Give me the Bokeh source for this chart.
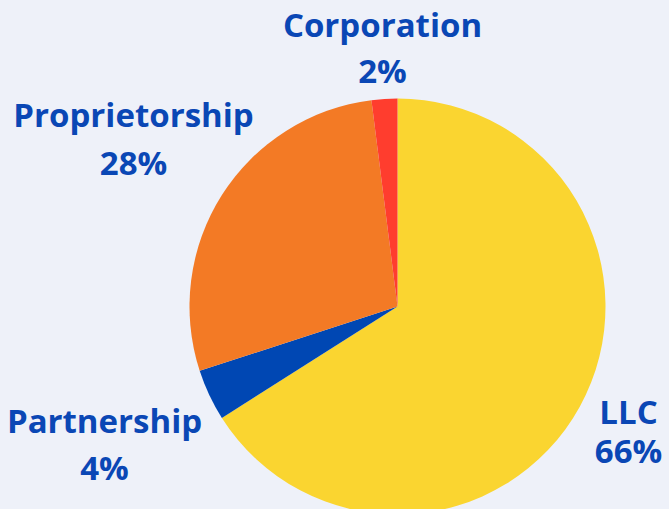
import numpy as np
from bokeh.plotting import figure
from bokeh.models import ColumnDataSource, Range1d
from bokeh.core.properties import value
from bokeh.embed import file_html
from bokeh.resources import INLINE

categories = ["LLC", "Partnership", "Proprietorship", "Corporation"]
shares = [66, 4, 28, 2]
colors = ["#FAD530", "#0047B3", "#F37A25", "#FF3D2E"]

W, H = 669, 509
BG = "#EEF1F9"
TXT = "#0A47B5"

p = figure(width=W, height=H, output_backend="svg", toolbar_location=None,
           x_range=Range1d(0, W), y_range=Range1d(0, H), min_border=0)
p.axis.visible = False
p.grid.visible = False
p.outline_line_color = None
p.background_fill_color = BG
p.border_fill_color = BG

frac = np.array(shares, dtype=float) / sum(shares)
cum = np.concatenate([[0], np.cumsum(frac)])
start = np.pi / 2 - 2 * np.pi * cum[:-1]
end = np.pi / 2 - 2 * np.pi * cum[1:]

cx, cy, r = 397, 203, 208
src = ColumnDataSource(dict(start=start, end=end, color=colors))
p.wedge(x=cx, y=cy, radius=r, start_angle="start", end_angle="end",
        direction="clock", fill_color="color", line_color=None, source=src)

# label layout (pixel positions, baselines)
lab_x = [628, 104, 133, 382]
lab_y1 = [98, 89, 395, 485]
lab_y2 = [59, 42, 347, 439]
pct = [f"{s}%" for s in shares]

for xs, ys, txt in [(lab_x, lab_y1, categories), (lab_x, lab_y2, pct)]:
    s = ColumnDataSource(dict(x=xs, y=ys, t=txt))
    p.text(x="x", y="y", text="t", source=s, text_font=value("Open Sans"),
           text_font_style="bold", text_font_size="33px", text_color=TXT,
           text_align="center", text_baseline="alphabetic")

html = file_html(p, INLINE)
html = html.replace("<head>", "<head><style>body{background:%s;overflow:hidden;}</style>" % BG, 1)
open("out.html", "w").write(html)
